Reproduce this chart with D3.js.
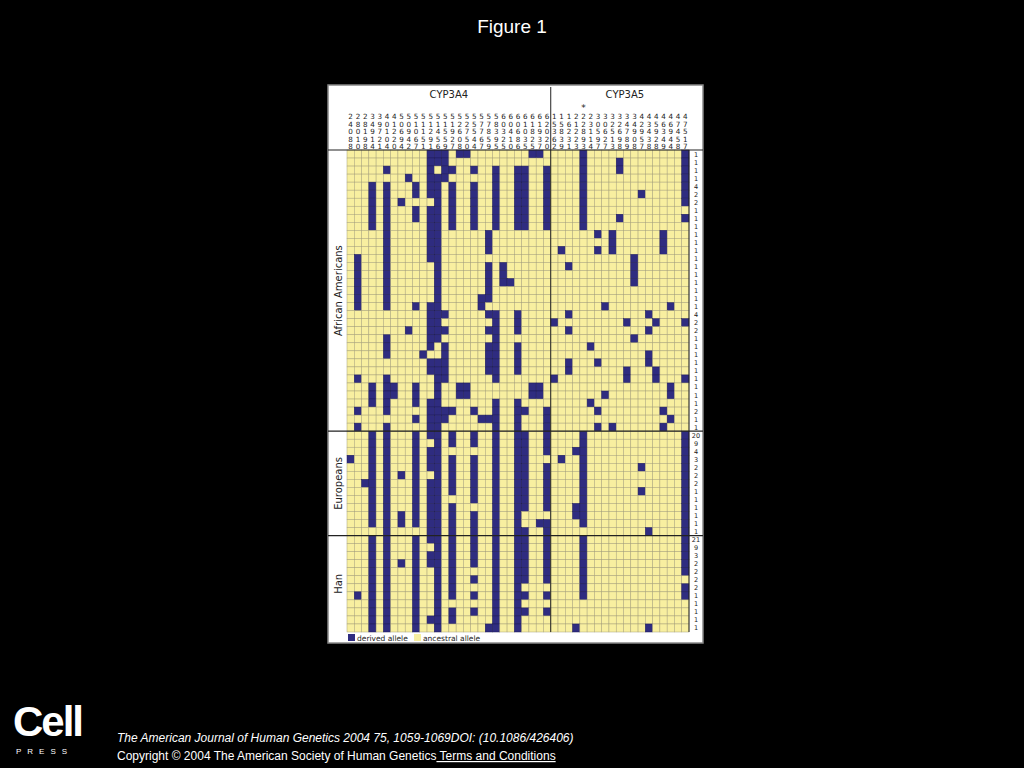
<!DOCTYPE html>
<html><head><meta charset="utf-8">
<script src="https://cdn.jsdelivr.net/npm/d3@7"></script>
<style>body{margin:0;background:#000;}svg{display:block;}</style>
</head><body>
<script>
const colLabelsA4 = ["24088","28010","28198","34914","39721","40104","41220","50694","50942","51067","51151","51291","51456","51559","51927","52608","52750","55544","57767","57859","58395","60325","60410","60686","61035","61825","61937","62020"];
const colLabelsA5 = ["15362","15839","16231","21223","22893","23114","30597","30627","32513","32698","34789","34908","42957","43438","45928","46349","46944","47458","47517"];
const starCol = 4; // CYP3A5 column with asterisk
const groups = [{name:"African Americans", start:0, n:35},{name:"Europeans", start:35, n:13},{name:"Han", start:48, n:12}];
const counts = [1,1,1,1,4,2,2,1,1,1,1,1,1,1,1,1,1,1,1,1,4,2,2,1,1,1,1,1,1,1,1,1,2,1,1,
  20,9,4,3,2,2,2,1,1,1,1,1,1,
  21,9,3,2,2,2,2,1,1,1,1,1];
const derivedRows = [
 [11,12,13,15,16,25,26,32,46],
 [11,12,13,32,37,46],
 [5,11,13,14,17,20,23,24,27,32,37,46],
 [8,11,12,13,20,23,24,27,32,46],
 [3,5,9,11,12,14,17,20,23,24,27,32,46],
 [3,5,9,11,12,14,17,20,23,24,27,32,40,46],
 [3,5,7,12,14,17,20,23,24,27,32,46],
 [3,5,9,11,12,14,17,20,23,24,27,32],
 [3,5,9,11,12,14,17,20,23,24,27,32,37,46],
 [3,5,11,12,14,17,20,23,24,27,32],
 [5,11,12,19,34,36,43],
 [5,11,12,19,36,43],
 [5,11,12,19,29,34,36,43],
 [1,5,11,12,39],
 [1,5,12,19,21,30,39],
 [1,5,12,19,21,39],
 [1,5,12,19,21,22,39],
 [1,5,12,19],
 [1,5,12,18,19],
 [1,5,9,11,12,18,35,44],
 [11,12,13,19,20,23,30,41],
 [11,12,20,23,28,38,42,46],
 [8,11,12,13,19,20,23,30,41],
 [5,11,12,20,39],
 [5,11,13,19,20,23,33],
 [5,10,13,19,20,23,41],
 [11,12,13,19,20,23,30,34,41],
 [11,12,13,19,20,23,30,38,42],
 [1,5,12,13,20,28,38,42,46],
 [3,5,6,9,12,15,16,25,26,44],
 [3,5,6,9,12,15,16,25,26,35,44],
 [3,5,9,11,12,20,23,33],
 [1,5,11,12,13,14,17,20,23,24,27,34,43],
 [9,11,12,13,18,19,20,23,27,44],
 [1,5,11,12,20,23,27,34,36,43],
 [3,5,9,11,12,14,17,20,23,24,27,32,46],
 [3,5,9,12,14,17,20,23,24,27,32,46],
 [3,5,9,11,12,20,23,24,27,31,32,46],
 [0,3,5,9,11,12,14,17,20,23,24,29,32,46],
 [3,5,9,11,12,14,17,20,23,24,27,32,40,46],
 [3,5,7,9,12,14,17,20,23,24,27,32,46],
 [2,3,5,9,11,12,14,17,20,23,24,27,32,46],
 [3,5,9,11,12,14,17,20,23,24,27,32,40,46],
 [3,5,9,11,12,17,20,23,24,27,32,46],
 [3,5,9,11,12,14,20,23,24,27,31,32,46],
 [3,5,7,9,11,12,14,17,20,23,31,32,46],
 [3,5,7,9,11,12,14,17,20,23,26,27,32,46],
 [5,11,12,14,17,20,23,24,27,41,46],
 [3,5,9,11,12,14,17,20,23,24,27,32,46],
 [3,5,9,12,14,17,20,23,24,27,32,46],
 [3,5,9,11,12,14,17,20,23,24,27,32,46],
 [3,5,7,9,11,12,14,17,20,23,24,27,32,46],
 [3,5,9,12,14,20,23,24,27,32,46],
 [3,5,9,12,14,17,20,23,24,27,32],
 [3,5,9,12,14,20,23,32,46],
 [1,3,5,9,12,14,17,20,23,24,27,32,46],
 [3,5,9,12,20,23],
 [3,5,9,12,14,17,20,23,24,27],
 [3,5,9,11,12,14,20,23],
 [3,5,9,12,19,20,23,31,41]
];

const W=1024,H=768;
const svg=d3.select("body").append("svg").attr("width",W).attr("height",H).style("background","#000");
svg.append("text").attr("x",512).attr("y",33).attr("text-anchor","middle").attr("fill","#fff")
  .attr("font-family","Liberation Sans, Arial").attr("font-size",19).text("Figure 1");

const px0=328,px1=703,py0=85,py1=643;
svg.append("rect").attr("x",px0).attr("y",py0).attr("width",px1-px0).attr("height",py1-py0).attr("fill","#fff").attr("stroke","#888").attr("stroke-width",1.5);

const cols=colLabelsA4.concat(colLabelsA5);
const nCol=cols.length, nRow=derivedRows.length;
const gx0=347,gx1=689,gy0=150,gy1=632;
const x=d3.scaleBand().domain(d3.range(nCol)).range([gx0,gx1]);
const y=d3.scaleBand().domain(d3.range(nRow)).range([gy0,gy1]);
const cells=[];
derivedRows.forEach((r,ri)=>{const s=new Set(r);for(let c=0;c<nCol;c++)cells.push({r:ri,c,d:s.has(c)});});
svg.append("g").selectAll("rect").data(cells).join("rect")
  .attr("x",d=>x(d.c)).attr("y",d=>y(d.r)).attr("width",x.bandwidth()).attr("height",y.bandwidth())
  .attr("fill",d=>d.d?"#2f2c80":"#f8efa0").attr("stroke",d=>d.d?"#1c1a55":"#a8a27a").attr("stroke-width",0.5);

const line=(x1,y1,x2,y2,w)=>svg.append("line").attr("x1",x1).attr("y1",y1).attr("x2",x2).attr("y2",y2).attr("stroke","#222").attr("stroke-width",w||1);
line(px0,gy0,px1,gy0,1.2);
groups.slice(1).forEach(g=>line(px0,y(g.start),px1,y(g.start),1.2));
line(x(28),py0+2,x(28),gy1,1);
line(gx1,gy0,gx1,gy1,1);

const ff="DejaVu Sans, Verdana";
svg.append("text").attr("x",(x(0)+x(28))/2).attr("y",98).attr("text-anchor","middle").attr("font-family",ff).attr("font-size",10).attr("fill","#222").text("CYP3A4");
svg.append("text").attr("x",(x(28)+gx1+10)/2).attr("y",98).attr("text-anchor","middle").attr("font-family",ff).attr("font-size",10).attr("fill","#222").text("CYP3A5");
const lg=svg.append("g").attr("font-family",ff).attr("font-size",7.2).attr("fill","#222").attr("text-anchor","middle");
cols.forEach((lab,i)=>{
  lab.split("").forEach((ch,k)=>lg.append("text").attr("x",x(i)+x.bandwidth()/2).attr("y",119+k*7.6).text(ch));
});
svg.append("text").attr("x",x(28+starCol)+x.bandwidth()/2).attr("y",111).attr("text-anchor","middle").attr("font-family",ff).attr("font-size",9).attr("fill","#222").text("*");

groups.forEach(g=>{
  const cy=y(g.start)+g.n*y.step()/2;
  svg.append("text").attr("transform",`translate(342,${cy}) rotate(-90)`).attr("text-anchor","middle")
   .attr("font-family",ff).attr("font-size",10).attr("fill","#222").text(g.name);
});
svg.append("g").selectAll("text").data(counts).join("text")
  .attr("x",696).attr("y",(d,i)=>y(i)+y.bandwidth()/2+2.5).attr("text-anchor","middle")
  .attr("font-family",ff).attr("font-size",6.5).attr("fill","#222").text(d=>d);

svg.append("rect").attr("x",348).attr("y",634).attr("width",7).attr("height",7).attr("fill","#2f2c80");
svg.append("text").attr("x",357).attr("y",641).attr("font-family",ff).attr("font-size",7.5).attr("fill","#222").text("derived allele");
svg.append("rect").attr("x",414).attr("y",634).attr("width",7).attr("height",7).attr("fill","#f8efa0");
svg.append("text").attr("x",423).attr("y",641).attr("font-family",ff).attr("font-size",7.5).attr("fill","#222").text("ancestral allele");

svg.append("text").attr("x",13).attr("y",736).attr("font-family","Liberation Sans, Arial").attr("font-weight","bold").attr("font-size",42).attr("fill","#fff").attr("letter-spacing",-2).text("Cell");
svg.append("text").attr("x",16).attr("y",754).attr("font-family","Liberation Sans, Arial").attr("font-size",8).attr("fill","#fff").attr("letter-spacing",6).text("PRESS");
svg.append("text").attr("x",117).attr("y",742).attr("font-family","Liberation Sans, Arial").attr("font-style","italic").attr("font-size",12).attr("fill","#fff")
  .text("The American Journal of Human Genetics 2004 75, 1059-1069DOI: (10.1086/426406)");
const t=svg.append("text").attr("x",117).attr("y",760).attr("font-family","Liberation Sans, Arial").attr("font-size",12).attr("fill","#fff");
t.append("tspan").text("Copyright © 2004 The American Society of Human Genetics");
t.append("tspan").attr("text-decoration","underline").text(" Terms and Conditions");
</script>
</body></html>
